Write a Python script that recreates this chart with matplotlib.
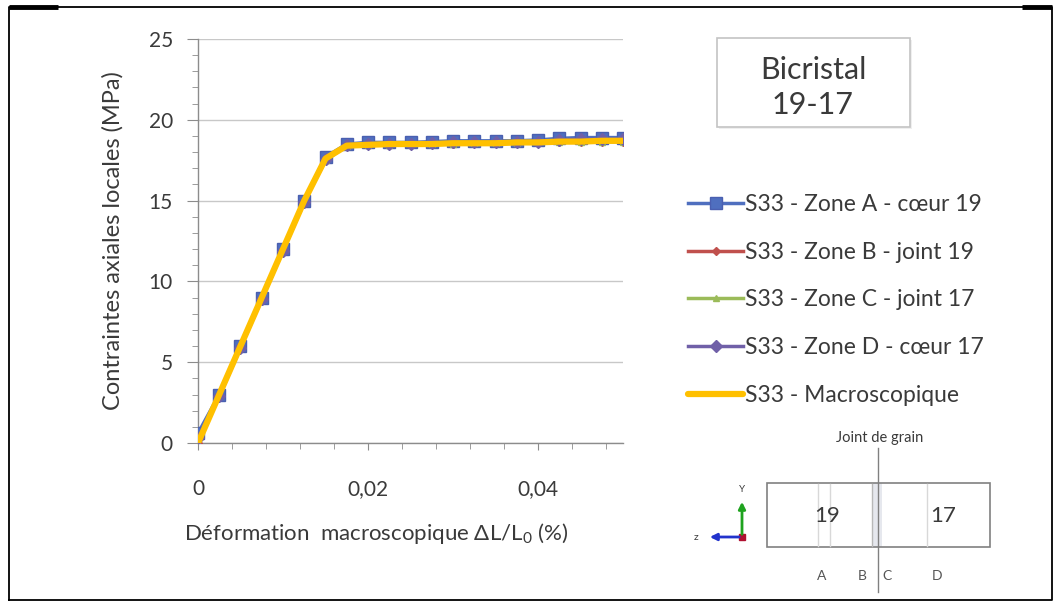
import matplotlib
matplotlib.use("Agg")
import matplotlib.pyplot as plt
from matplotlib.patches import Rectangle
from matplotlib.ticker import MultipleLocator, FuncFormatter

plt.rcParams['font.family'] = ['Lato', 'DejaVu Sans']
plt.rcParams['mathtext.default'] = 'regular'

# Macroscopic strain (%)
strain = [0.0, 0.0025, 0.005, 0.0075, 0.01, 0.0125, 0.015, 0.0175, 0.02, 0.0225,
          0.025, 0.0275, 0.03, 0.0325, 0.035, 0.0375, 0.04, 0.0425, 0.045, 0.0475, 0.05]

# Local axial stresses S33 (MPa)
zone_a = [0.6, 3.0, 6.0, 9.0, 12.0, 15.0, 17.7, 18.5, 18.6, 18.6, 18.6, 18.65, 18.7,
          18.7, 18.7, 18.7, 18.75, 18.85, 18.9, 18.9, 18.9]
zone_b = [0.0, 3.0, 6.0, 9.0, 12.0, 15.0, 17.5, 18.4, 18.45, 18.45, 18.5, 18.5, 18.5,
          18.55, 18.55, 18.55, 18.6, 18.6, 18.65, 18.65, 18.65]
zone_c = [0.0, 3.0, 6.0, 9.0, 12.0, 15.0, 17.5, 18.4, 18.45, 18.45, 18.5, 18.5, 18.5,
          18.55, 18.55, 18.55, 18.6, 18.6, 18.65, 18.65, 18.65]
zone_d = [0.3, 2.9, 5.9, 8.9, 11.9, 14.9, 17.6, 18.45, 18.5, 18.5, 18.5, 18.55, 18.6,
          18.6, 18.6, 18.6, 18.65, 18.75, 18.8, 18.8, 18.8]
macro = [0.0, 3.0, 6.0, 9.0, 12.0, 15.0, 17.6, 18.4, 18.45, 18.5, 18.5, 18.5, 18.55,
         18.55, 18.55, 18.6, 18.6, 18.65, 18.65, 18.7, 18.7]

labels = ["S33 - Zone A - cœur 19", "S33 - Zone B - joint 19", "S33 - Zone C - joint 17",
          "S33 - Zone D - cœur 17", "S33 - Macroscopique"]

TXT = '#3a3a3a'
W, H = 1060, 608
fig = plt.figure(figsize=(W / 100, H / 100), dpi=100)
fig.patch.set_facecolor('white')

ax = fig.add_axes([198 / W, 1 - 443 / H, 425 / W, 404 / H])
ax.set_xlim(0, 0.05)
ax.set_ylim(0, 25)

la, = ax.plot(strain, zone_a, color='#4F6FBF', lw=2.5, marker='s', ms=8.5,
              mec='#4A5FB0', mfc='#4F6FBF', zorder=3)
lb, = ax.plot(strain, zone_b, color='#C0504D', lw=2.5, marker='D', ms=4, zorder=3)
lc, = ax.plot(strain, zone_c, color='#9BBB59', lw=2.5, marker='^', ms=5, zorder=3)
ld, = ax.plot(strain, zone_d, color='#7060A8', lw=2.5, marker='D', ms=6.5, zorder=4)
lm, = ax.plot(strain, macro, color='#FFC000', lw=4.5, zorder=6, solid_capstyle='round')

ax.yaxis.set_major_locator(MultipleLocator(5))
ax.yaxis.set_minor_locator(MultipleLocator(1))
ax.xaxis.set_major_locator(MultipleLocator(0.02))
ax.xaxis.set_minor_locator(MultipleLocator(0.004))
ax.xaxis.set_major_formatter(FuncFormatter(
    lambda v, p: '0' if abs(v) < 1e-12 else f"{v:.2f}".replace('.', ',')))
ax.grid(axis='y', which='major', color='#C8C8C8', lw=1.0)
ax.set_axisbelow(True)
for s in ('top', 'right'):
    ax.spines[s].set_visible(False)
for s in ('left', 'bottom'):
    ax.spines[s].set_color('#8C8C8C')
    ax.spines[s].set_linewidth(1.0)
ax.tick_params(axis='y', which='major', length=8, color='#8C8C8C', pad=10, labelsize=15, labelcolor=TXT)
ax.tick_params(axis='y', which='minor', length=4, color='#8C8C8C')
ax.tick_params(axis='x', which='major', length=5, color='#8C8C8C', pad=21, labelsize=15, labelcolor=TXT)
ax.tick_params(axis='x', which='minor', length=4, color='#8C8C8C')

ax.set_ylabel("Contraintes axiales locales (MPa)", fontsize=17, color=TXT)
ax.yaxis.set_label_coords((113 - 198) / 425, 0.5)
ax.yaxis.label.set_va('center')
ax.set_xlabel("Déformation  macroscopique ΔL/L$_0$ (%)", fontsize=16, color=TXT)
ax.xaxis.set_label_coords((376 - 198) / 425, -(533 - 443) / 404)
ax.xaxis.label.set_va('center')

fig.legend([la, lb, lc, ld, lm], labels, loc='upper left',
           bbox_to_anchor=(688 / W, 1 - 194 / H), frameon=False, fontsize=16.5,
           handlelength=2.4, handletextpad=0.1, labelspacing=1.165, borderpad=0,
           borderaxespad=0, labelcolor=TXT)

# Decorations drawn in pixel coordinates
deco = fig.add_axes([0, 0, 1, 1], zorder=10)
deco.set_xlim(0, W)
deco.set_ylim(H, 0)
deco.axis('off')
deco.patch.set_alpha(0)

# outer frame
deco.plot([9, 9, 1052, 1052, 9], [600, 7, 7, 600, 600], color='black', lw=1.3)
deco.plot([9, 58], [7, 7], color='black', lw=3.5, solid_capstyle='butt')
deco.plot([1022, 1052], [7, 7], color='black', lw=3.5, solid_capstyle='butt')

# title box
deco.add_patch(Rectangle((719, 40), 193, 89, facecolor='#EFEFEF', edgecolor='none'))
deco.add_patch(Rectangle((717, 38), 193, 89, facecolor='white', edgecolor='#C4C4C4', lw=1.2))
deco.text(813, 70, "Bicristal", fontsize=22, color=TXT, ha='center', va='center')
deco.text(813, 105, "19-17", fontsize=22, color=TXT, ha='center', va='center')

# bicrystal sketch
deco.add_patch(Rectangle((872, 483), 10, 64, facecolor='#E6E8EE', edgecolor='none'))
for xx in (818, 830, 927):
    deco.plot([xx, xx], [484, 546], color='#D8D8D8', lw=1.0)
deco.plot([872, 872], [484, 546], color='#B8B8B8', lw=1.0)
deco.add_patch(Rectangle((767, 483), 223, 64, fill=False, edgecolor='#808080', lw=1.2))
deco.plot([878, 878], [448, 592], color='#808080', lw=1.0)
deco.text(880, 438, "Joint de grain", fontsize=10.5, color=TXT, ha='center', va='center')
deco.text(827, 516, "19", fontsize=16, color=TXT, ha='center', va='center')
deco.text(943, 516, "17", fontsize=16, color=TXT, ha='center', va='center')
for lab, xx in (("A", 822), ("B", 862), ("C", 887), ("D", 937)):
    deco.text(xx, 576, lab, fontsize=10, color='#555555', ha='center', va='center')

deco.annotate("", xy=(742, 499), xytext=(742, 537),
              arrowprops=dict(arrowstyle='-|>', color='#1FA31F', lw=2, mutation_scale=10))
deco.annotate("", xy=(707, 537), xytext=(742, 537),
              arrowprops=dict(arrowstyle='-|>', color='#2233CC', lw=2, mutation_scale=10))
deco.plot([742], [537], marker='s', ms=4, color='#B01030')
deco.text(742, 490, "Y", fontsize=7, color=TXT, ha='center', va='center')
deco.text(696, 537, "z", fontsize=7.5, color=TXT, ha='center', va='center')

fig.savefig("out.png", dpi=100)
